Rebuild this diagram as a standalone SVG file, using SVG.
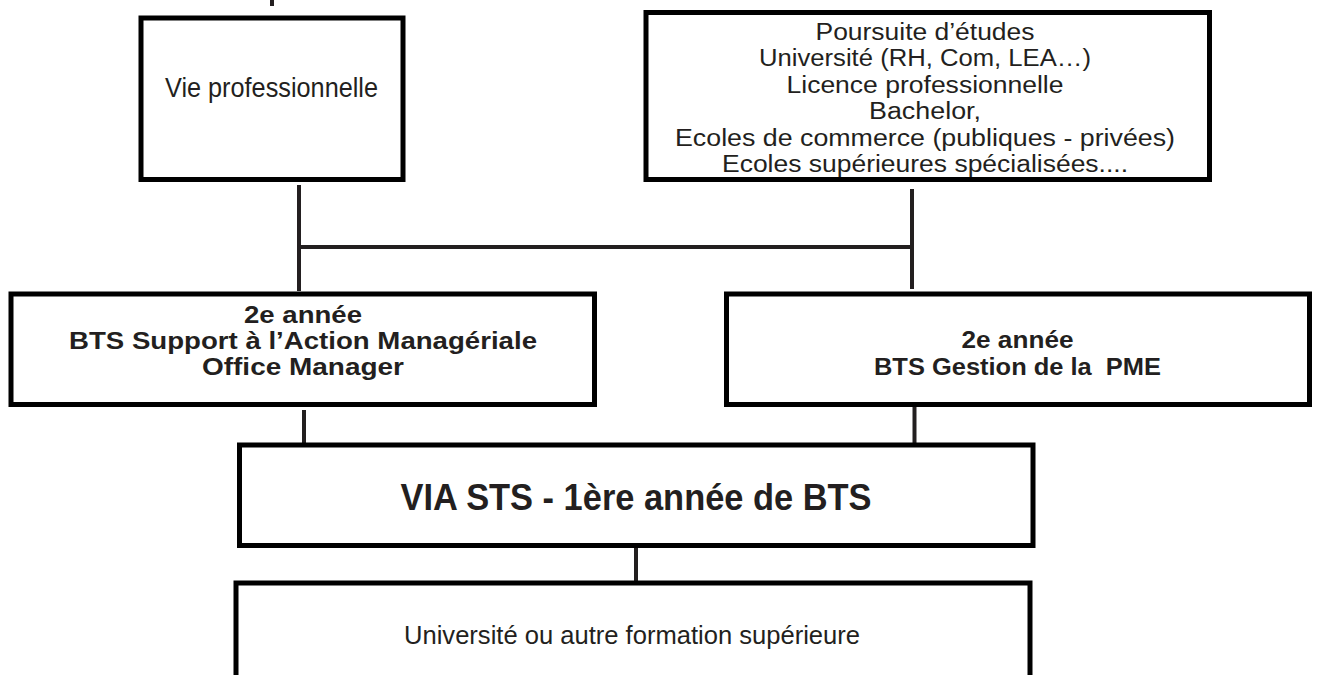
<svg xmlns="http://www.w3.org/2000/svg" width="1317" height="675" viewBox="0 0 1317 675">
  <style>
    .box { fill: #ffffff; stroke: #000000; stroke-width: 5; }
    .conn { stroke: #231f20; stroke-width: 4; fill: none; }
    .t { font-family: "Liberation Sans", Arial, sans-serif; fill: #231f20; text-anchor: middle; }
    .reg { font-size: 23.5px; }
    .bold { font-weight: bold; font-size: 23.5px; }
    .big { font-weight: bold; font-size: 36px; }
  </style>
  <rect width="1317" height="675" fill="#ffffff"/>

  <g id="connectors">
    <line class="conn" x1="272" y1="-5" x2="272" y2="6"/>
    <line class="conn" x1="299" y1="185" x2="299" y2="291"/>
    <line class="conn" x1="912" y1="189" x2="912" y2="289"/>
    <line class="conn" x1="297" y1="247" x2="914" y2="247"/>
    <line class="conn" x1="304" y1="410" x2="304" y2="449"/>
    <line class="conn" x1="914.5" y1="406" x2="914.5" y2="445"/>
    <line class="conn" x1="636" y1="542" x2="636" y2="581"/>
  </g>

  <g id="vie-professionnelle">
    <rect class="box" x="141" y="18" width="262" height="161.5"/>
    <text class="t" x="271.5" y="97.3" font-size="27" textLength="213" lengthAdjust="spacingAndGlyphs">Vie professionnelle</text>
  </g>

  <g id="poursuite-etudes">
    <rect class="box" x="646" y="12.5" width="563.5" height="167"/>
    <text class="t reg" x="925" y="39.5" textLength="219" lengthAdjust="spacingAndGlyphs">Poursuite d’études</text>
    <text class="t reg" x="925" y="66" textLength="332" lengthAdjust="spacingAndGlyphs">Université (RH, Com, LEA…)</text>
    <text class="t reg" x="925" y="92.5" textLength="277" lengthAdjust="spacingAndGlyphs">Licence professionnelle</text>
    <text class="t reg" x="925" y="119" textLength="112" lengthAdjust="spacingAndGlyphs">Bachelor,</text>
    <text class="t reg" x="925" y="145.5" textLength="500" lengthAdjust="spacingAndGlyphs">Ecoles de commerce (publiques - privées)</text>
    <text class="t reg" x="925" y="172" textLength="406" lengthAdjust="spacingAndGlyphs">Ecoles supérieures spécialisées....</text>
  </g>

  <g id="bts-sam">
    <rect class="box" x="11" y="294" width="583.5" height="110.5"/>
    <text class="t bold" x="303" y="322.7" textLength="118" lengthAdjust="spacingAndGlyphs">2e année</text>
    <text class="t bold" x="303" y="348.8" textLength="468" lengthAdjust="spacingAndGlyphs">BTS Support à l’Action Managériale</text>
    <text class="t bold" x="303" y="375" textLength="202" lengthAdjust="spacingAndGlyphs">Office Manager</text>
  </g>

  <g id="bts-pme">
    <rect class="box" x="726.5" y="294" width="583" height="110.5"/>
    <text class="t bold" x="1017.5" y="348.3" textLength="112" lengthAdjust="spacingAndGlyphs">2e année</text>
    <text class="t bold" x="1017.5" y="375" xml:space="preserve" textLength="287" lengthAdjust="spacingAndGlyphs">BTS Gestion de la  PME</text>
  </g>

  <g id="via-sts">
    <rect class="box" x="239.5" y="445" width="793.5" height="100.5"/>
    <text class="t big" x="636" y="510" textLength="471" lengthAdjust="spacingAndGlyphs">VIA STS - 1ère année de BTS</text>
  </g>

  <g id="universite">
    <rect class="box" x="236" y="583" width="794" height="110"/>
    <text class="t" x="632" y="643.5" font-size="26" textLength="456" lengthAdjust="spacingAndGlyphs">Université ou autre formation supérieure</text>
  </g>
</svg>
